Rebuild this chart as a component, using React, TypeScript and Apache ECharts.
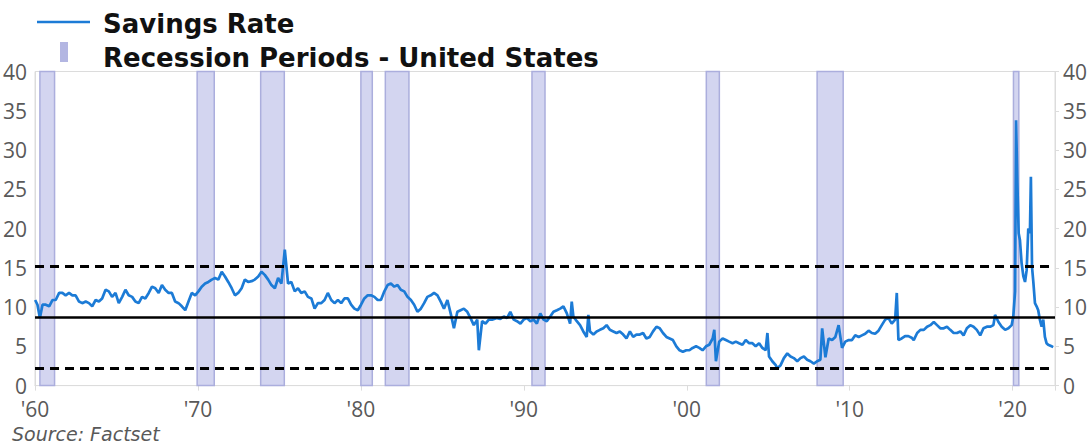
import React, { useEffect, useRef } from "react";
import * as echarts from "echarts";

// Personal savings rate (%), [decimal year, value]
const rate1960s: [number, number][] = [
  [1960.01, 10.9], [1960.15, 10.3], [1960.3, 8.6], [1960.46, 10.3], [1960.66, 10.3], [1960.87, 10.1],
  [1961.07, 10.9], [1961.27, 10.9], [1961.48, 11.8], [1961.68, 11.8], [1961.88, 11.5], [1962.09, 11.8],
  [1962.29, 11.5], [1962.49, 11.5], [1962.7, 10.7], [1962.9, 10.5], [1963.11, 10.7], [1963.31, 10.5],
  [1963.51, 10.1], [1963.72, 10.9], [1963.92, 10.7], [1964.12, 11.1], [1964.33, 12.2], [1964.53, 12.0],
  [1964.73, 11.3], [1964.94, 11.8], [1965.14, 10.5], [1965.35, 11.3], [1965.55, 12.2], [1965.75, 11.5],
  [1965.96, 11.3], [1966.16, 10.7], [1966.36, 10.5], [1966.57, 11.3], [1966.77, 11.1], [1966.98, 11.8],
  [1967.18, 12.6], [1967.38, 12.4], [1967.59, 11.8], [1967.79, 12.8], [1967.99, 12.2], [1968.2, 11.8],
  [1968.4, 11.8], [1968.6, 10.7], [1968.81, 10.5], [1969.01, 10.1], [1969.22, 9.6], [1969.42, 10.7],
  [1969.62, 11.8], [1969.83, 11.5],
];
const rate1970s: [number, number][] = [
  [1970.03, 12.0], [1970.23, 12.6], [1970.44, 13.0], [1970.64, 13.2], [1970.85, 13.5], [1971.05, 13.7],
  [1971.25, 13.5], [1971.46, 14.5], [1971.66, 13.9], [1971.86, 13.2], [1972.07, 12.4], [1972.27, 11.5],
  [1972.47, 11.8], [1972.68, 12.4], [1972.88, 13.5], [1973.08, 13.2], [1973.29, 13.3], [1973.49, 13.5],
  [1973.7, 13.9], [1973.9, 14.5], [1974.1, 14.1], [1974.31, 13.5], [1974.51, 12.8], [1974.72, 12.4],
  [1974.92, 13.7], [1975.12, 13.0], [1975.33, 17.3], [1975.53, 13.0], [1975.73, 13.2], [1975.94, 12.0],
  [1976.14, 12.4], [1976.34, 11.8], [1976.55, 12.0], [1976.75, 11.3], [1976.96, 11.1], [1977.16, 9.8],
  [1977.36, 10.5], [1977.57, 10.5], [1977.77, 10.9], [1977.97, 11.8], [1978.18, 10.9], [1978.38, 10.5],
  [1978.59, 10.9], [1978.79, 10.5], [1978.99, 11.1], [1979.2, 11.1], [1979.4, 10.3], [1979.6, 9.8],
  [1979.81, 9.6],
];
const rate1980s: [number, number][] = [
  [1980.01, 10.3], [1980.21, 11.1], [1980.42, 11.5], [1980.62, 11.5], [1980.83, 11.3], [1981.03, 10.9],
  [1981.23, 10.9], [1981.44, 12.0], [1981.64, 12.8], [1981.84, 13.0], [1982.05, 12.6], [1982.25, 12.8],
  [1982.45, 12.2], [1982.66, 12.0], [1982.86, 11.3], [1983.07, 10.9], [1983.27, 10.3], [1983.47, 9.4],
  [1983.68, 9.8], [1983.88, 10.5], [1984.08, 11.3], [1984.29, 11.5], [1984.49, 11.8], [1984.7, 11.5],
  [1984.9, 10.7], [1985.1, 9.8], [1985.31, 10.9], [1985.51, 9.2], [1985.71, 7.3], [1985.92, 9.4],
  [1986.12, 9.6], [1986.32, 9.8], [1986.53, 9.4], [1986.73, 8.6], [1986.93, 7.7], [1987.14, 8.4],
  [1987.24, 4.5], [1987.44, 8.2], [1987.65, 7.9], [1987.85, 8.4], [1988.05, 8.4], [1988.36, 8.6],
  [1988.56, 8.5], [1988.77, 8.8], [1988.97, 8.6], [1989.17, 9.4], [1989.38, 8.4], [1989.58, 8.2],
  [1989.79, 7.9],
];
const rate1990s: [number, number][] = [
  [1989.99, 8.4], [1990.19, 8.6], [1990.4, 8.2], [1990.6, 8.4], [1990.8, 7.9], [1991.01, 9.2],
  [1991.21, 8.4], [1991.41, 8.2], [1991.62, 8.8], [1991.82, 9.4], [1992.03, 9.6], [1992.23, 9.8],
  [1992.43, 10.1], [1992.64, 9.2], [1992.84, 7.9], [1992.94, 10.7], [1993.04, 8.8], [1993.25, 8.2],
  [1993.45, 7.7], [1993.65, 6.9], [1993.86, 6.2], [1993.96, 9.0], [1994.06, 6.9], [1994.27, 6.5],
  [1994.47, 6.9], [1994.67, 7.1], [1994.88, 7.3], [1995.08, 7.7], [1995.28, 7.1], [1995.49, 6.9],
  [1995.69, 6.7], [1995.89, 6.9], [1996.1, 6.5], [1996.3, 6.0], [1996.51, 6.9], [1996.71, 6.2],
  [1996.91, 6.5], [1997.12, 6.5], [1997.32, 6.7], [1997.52, 6.0], [1997.73, 6.2], [1997.93, 6.9],
  [1998.14, 7.5], [1998.34, 7.3], [1998.54, 6.7], [1998.75, 6.2], [1998.95, 6.0], [1999.15, 5.8],
  [1999.36, 5.0], [1999.56, 4.5], [1999.76, 4.3],
];
const rate2000s: [number, number][] = [
  [1999.97, 4.5], [2000.16, 4.5], [2000.36, 4.8], [2000.57, 5.0], [2000.77, 4.8], [2000.97, 4.5],
  [2001.18, 5.0], [2001.38, 5.2], [2001.59, 6.0], [2001.69, 7.1], [2001.79, 3.1], [2001.99, 5.6],
  [2002.2, 6.0], [2002.4, 5.8], [2002.6, 5.6], [2002.81, 5.4], [2003.01, 5.6], [2003.21, 5.4],
  [2003.42, 5.2], [2003.62, 5.8], [2003.83, 5.4], [2004.03, 5.4], [2004.23, 5.0], [2004.44, 5.4],
  [2004.64, 4.8], [2004.84, 4.5], [2004.95, 6.7], [2005.05, 3.7], [2005.25, 3.1], [2005.46, 2.6],
  [2005.56, 2.2], [2005.76, 2.6], [2005.96, 3.5], [2006.17, 4.1], [2006.37, 3.7], [2006.57, 3.5],
  [2006.78, 3.1], [2006.98, 3.5], [2007.19, 3.7], [2007.39, 3.3], [2007.59, 3.1], [2007.8, 2.8],
  [2008.0, 3.1], [2008.2, 3.3], [2008.31, 7.3], [2008.51, 3.6], [2008.71, 6.0], [2008.92, 5.8],
  [2009.12, 6.2], [2009.32, 7.7], [2009.53, 4.8], [2009.73, 5.6], [2009.94, 5.8],
];
const rate2010s: [number, number][] = [
  [2010.14, 5.8], [2010.34, 6.4], [2010.55, 6.2], [2010.75, 6.4], [2010.95, 6.6], [2011.16, 7.0],
  [2011.36, 6.7], [2011.56, 6.6], [2011.77, 7.0], [2011.97, 7.7], [2012.18, 8.4], [2012.38, 8.6],
  [2012.58, 7.9], [2012.79, 8.4], [2012.89, 11.8], [2012.99, 5.8], [2013.19, 6.0], [2013.4, 6.3],
  [2013.6, 6.3], [2013.8, 6.1], [2013.93, 5.8], [2014.14, 6.7], [2014.34, 7.1], [2014.55, 7.1],
  [2014.75, 7.5], [2014.95, 7.7], [2015.16, 8.1], [2015.36, 7.7], [2015.56, 7.3], [2015.77, 7.3],
  [2015.97, 7.5], [2016.17, 7.1], [2016.38, 6.7], [2016.58, 6.7], [2016.79, 6.9], [2016.99, 6.4],
  [2017.19, 7.3], [2017.4, 7.7], [2017.6, 7.5], [2017.8, 7.1], [2018.01, 6.4], [2018.21, 7.3],
  [2018.42, 7.5], [2018.62, 7.5], [2018.82, 7.7], [2018.92, 9.0], [2019.13, 8.1], [2019.33, 7.5],
  [2019.54, 7.1], [2019.74, 7.3], [2019.94, 7.7],
];
const rate2020s: [number, number][] = [
  [2020.04, 8.8], [2020.15, 12.0], [2020.21, 33.8], [2020.29, 25.8], [2020.37, 19.4], [2020.45, 18.5],
  [2020.55, 15.6], [2020.66, 13.9], [2020.76, 13.2], [2020.86, 14.7], [2020.96, 20.0], [2021.06, 19.4],
  [2021.12, 26.6], [2021.19, 15.1], [2021.27, 13.2], [2021.37, 10.5], [2021.47, 10.1], [2021.57, 9.6],
  [2021.67, 8.4], [2021.78, 7.5], [2021.88, 8.4], [2021.98, 6.2], [2022.08, 5.4], [2022.18, 5.2],
  [2022.39, 5.0], [2022.49, 4.9],
];

// US recession periods [start, end] in decimal years
const recessions: [number, number][] = [
  [1960.3, 1961.2], [1969.95, 1971.0], [1973.85, 1975.3], [1980.0, 1980.7], [1981.5, 1982.95],
  [1990.5, 1991.3], [2001.2, 2002.0], [2008.0, 2009.6], [2020.05, 2020.38],
];

const avgRate = 8.72;
const upperBand = 15.17;
const lowerBand = 2.27;

const yTicks = [0, 5, 10, 15, 20, 25, 30, 35, 40];
const xTicks = [1960, 1970, 1980, 1990, 2000, 2010, 2020];

const FONT = "'Open Sans', 'DejaVu Sans', sans-serif";
const LEGEND_FONT = "'DejaVu Sans', sans-serif";
const LABEL_COLOR = "#595959";
const AXIS_COLOR = "#dcdcdc";
const BLUE = "#1c7bd6";

export default function App() {
  const ref = useRef<HTMLDivElement>(null);
  useEffect(() => {
    if (!ref.current) return;
    const chart = echarts.init(ref.current, undefined, { renderer: "svg" });
    const savings = [...rate1960s, ...rate1970s, ...rate1980s, ...rate1990s, ...rate2000s, ...rate2010s, ...rate2020s];
    const yAxisBase = {
      type: "value",
      min: yTicks[0],
      max: yTicks[yTicks.length - 1],
      interval: 5,
      splitLine: { show: false },
      axisLine: { show: true, lineStyle: { color: AXIS_COLOR, width: 1 } },
      axisLabel: { color: LABEL_COLOR, fontSize: 21, lineHeight: 18, fontFamily: FONT, margin: 8 },
    };
    chart.setOption({
      animation: false,
      textStyle: { fontFamily: FONT },
      grid: {
        left: 30.5, right: 36, top: 71.5, bottom: 58.4,
        show: true, borderColor: AXIS_COLOR, borderWidth: 1, backgroundColor: "transparent",
      },
      xAxis: {
        type: "value",
        min: xTicks[0],
        max: 2022.6,
        interval: 10,
        splitLine: { show: false },
        axisLine: { show: true, lineStyle: { color: AXIS_COLOR } },
        axisTick: { show: true, length: 5, lineStyle: { color: AXIS_COLOR } },
        axisLabel: {
          color: LABEL_COLOR, fontSize: 21, lineHeight: 20, fontFamily: FONT, margin: 13,
          formatter: (v: number) => (xTicks.includes(v) ? "'" + String(v).slice(2) : ""),
        },
      },
      yAxis: [
        { ...yAxisBase, position: "left", axisTick: { show: false } },
        { ...yAxisBase, position: "right", axisTick: { show: true, length: 4, lineStyle: { color: AXIS_COLOR } } },
      ],
      series: [
        {
          name: "Savings Rate",
          type: "line",
          data: savings,
          showSymbol: false,
          symbol: "none",
          z: 3,
          lineStyle: { color: BLUE, width: 2.7 },
          itemStyle: { color: BLUE },
          markArea: {
            silent: true,
            z: 1,
            itemStyle: { color: "#d3d5f0", borderColor: "#abaedd", borderWidth: 1.5 },
            data: recessions.map(([s, e]) => [{ xAxis: s }, { xAxis: e }]),
          },
          markLine: {
            silent: true,
            symbol: "none",
            label: { show: false },
            z: 4,
            data: [
              { yAxis: upperBand, lineStyle: { type: [9, 6], color: "#000", width: 3 } },
              { yAxis: avgRate, lineStyle: { type: "solid", color: "#000", width: 2.5 } },
              { yAxis: lowerBand, lineStyle: { type: [9, 6], color: "#000", width: 3 } },
            ],
          },
        },
      ],
      graphic: [
        { type: "line", shape: { x1: 37, y1: 22, x2: 90, y2: 22 }, style: { stroke: BLUE, lineWidth: 2.5 } },
        { type: "rect", shape: { x: 60, y: 42, width: 8, height: 20 }, style: { fill: "#b3b6e2" } },
        {
          type: "text", x: 103, y: 24,
          style: { text: "Savings Rate", fill: "#111", font: `bold 26px ${LEGEND_FONT}`, verticalAlign: "middle", textVerticalAlign: "middle" },
        },
        {
          type: "text", x: 103, y: 57.5,
          style: { text: "Recession Periods - United States", fill: "#111", font: `bold 26px ${LEGEND_FONT}`, verticalAlign: "middle", textVerticalAlign: "middle" },
        },
        {
          type: "text", x: 12, y: 434,
          style: { text: "Source: Factset", fill: LABEL_COLOR, font: `italic 19px ${LEGEND_FONT}`, verticalAlign: "middle", textVerticalAlign: "middle" },
        },
      ],
    });
    return () => chart.dispose();
  }, []);
  return <div ref={ref} style={{ position: "absolute", left: 0, top: 0, width: 1091, height: 444 }} />;
}
